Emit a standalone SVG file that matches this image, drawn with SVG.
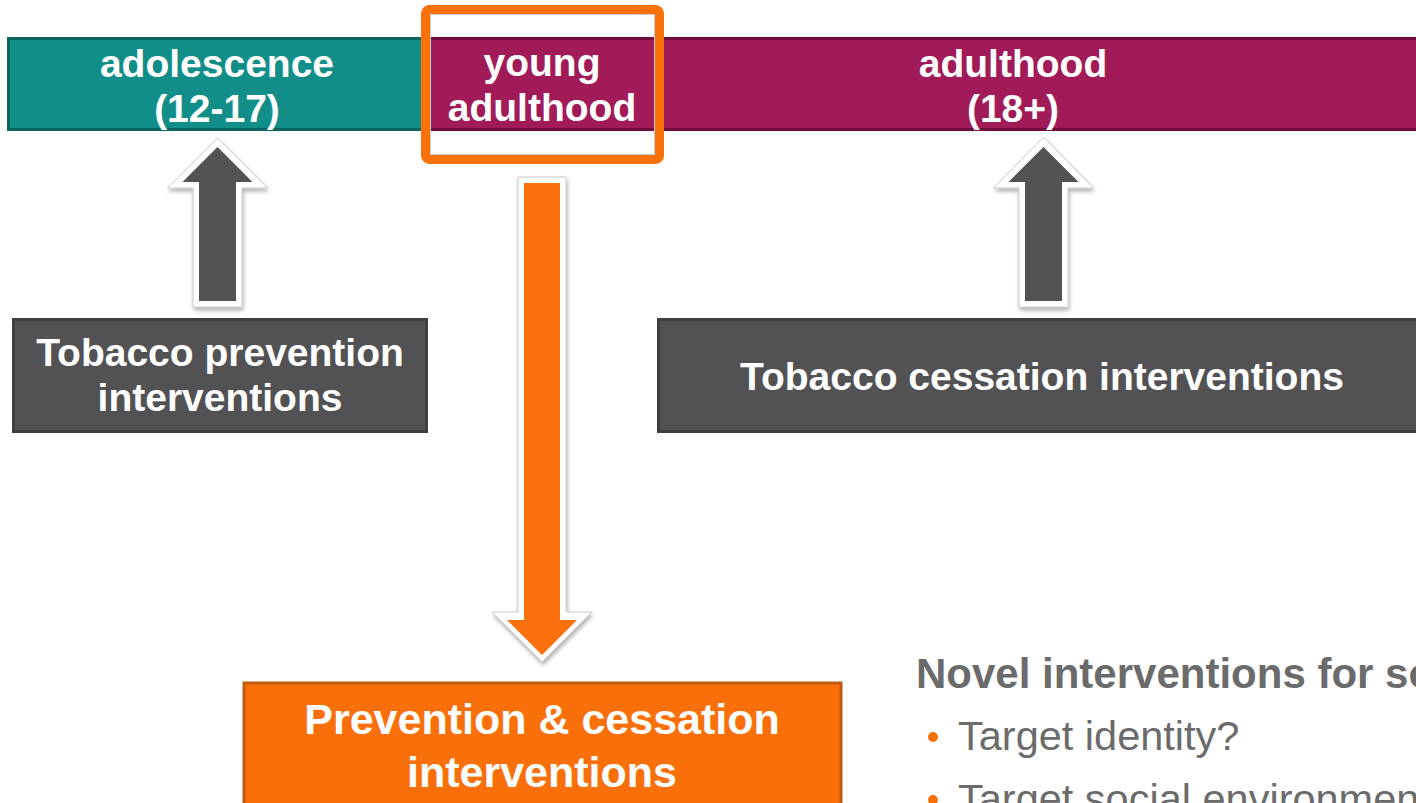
<svg xmlns="http://www.w3.org/2000/svg" width="1416" height="803" viewBox="0 0 1416 803">
<defs>
<style>
.lbl{font-family:"Liberation Sans",Arial,sans-serif;font-weight:bold;fill:#ffffff;text-anchor:middle}
.bar{font-size:39px}
.box{font-size:39px}
.gray{font-family:"Liberation Sans",Arial,sans-serif;fill:#6b6b6b}
.outline{fill:#ffffff;stroke:#c9c9c9;stroke-width:1}
</style>
<filter id="sh" x="-30%" y="-10%" width="160%" height="130%">
<feDropShadow dx="1" dy="3" stdDeviation="2" flood-color="#000" flood-opacity="0.3"/>
</filter>
</defs>
<rect width="1416" height="803" fill="#ffffff"/>

<g id="timeline">
<g id="adolescence">
<rect x="8.5" y="38.5" width="415" height="91" fill="#128E89" stroke="#0B6662" stroke-width="3"/>
<text class="lbl bar" x="217" y="77">adolescence</text>
<text class="lbl bar" x="217" y="122">(12-17)</text>
</g>
<g id="adulthood">
<rect x="423" y="38.5" width="1000" height="91" fill="#A11B59" stroke="#6F0E3A" stroke-width="3"/>
<text class="lbl bar" x="1013" y="77">adulthood</text>
<text class="lbl bar" x="1013" y="122">(18+)</text>
</g>
<g id="young-adulthood">
<text class="lbl bar" x="542" y="76">young</text>
<text class="lbl bar" x="542" y="121">adulthood</text>
<rect x="430.5" y="14.5" width="224" height="140" fill="none" stroke="#cccccc" stroke-width="1"/>
<rect x="425.5" y="9.5" width="234" height="150" rx="4" fill="none" stroke="#F97109" stroke-width="9"/>
</g>
</g>

<g id="connectors">
<g id="arrow-prevention" filter="url(#sh)">
<polygon class="outline" points="217.5,138 267.5,188 242,188 242,307 193,307 193,188 167.5,188"/>
<polygon fill="#525254" points="217.5,147 252.5,182 236,182 236,301 199,301 199,182 182.5,182"/>
</g>
<g id="arrow-cessation" filter="url(#sh)">
<polygon class="outline" points="1043.5,137 1093.5,188 1068,188 1068,307 1019,307 1019,188 993.5,188"/>
<polygon fill="#525254" points="1043.5,147 1078.5,182 1062,182 1062,301 1025,301 1025,182 1008.5,182"/>
</g>
<g id="arrow-young" filter="url(#sh)">
<polygon class="outline" points="518,177 566,177 566,612 592,612 542,662 492,612 518,612"/>
<polygon fill="#F9700B" points="524,183 560,183 560,620 577,620 542,655 507,620 524,620"/>
</g>
</g>

<g id="tobacco-prevention">
<rect x="13.5" y="319.5" width="413" height="112" fill="#525254" stroke="#3E3E40" stroke-width="3"/>
<text class="lbl box" x="220" y="366">Tobacco prevention</text>
<text class="lbl box" x="220" y="411">interventions</text>
</g>

<g id="tobacco-cessation">
<rect x="658.5" y="319.5" width="770" height="112" fill="#525254" stroke="#3E3E40" stroke-width="3"/>
<text class="lbl box" x="1042" y="390">Tobacco cessation interventions</text>
</g>

<g id="prevention-cessation">
<rect x="244" y="683" width="597" height="140" fill="#F9700B" stroke="#C05A0C" stroke-width="3"/>
<text class="lbl" font-size="43" x="542" y="734">Prevention &amp; cessation</text>
<text class="lbl" font-size="43" x="542" y="787">interventions</text>
</g>

<g id="novel-interventions">
<text class="gray" font-size="42" font-weight="bold" x="916" y="688">Novel interventions for social smokers</text>
<circle cx="933" cy="737" r="5" fill="#F97109"/>
<text class="gray" font-size="41.5" x="958" y="750">Target identity?</text>
<circle cx="933" cy="800" r="5" fill="#F97109"/>
<text class="gray" font-size="41.5" x="958" y="813">Target social environment?</text>
</g>
</svg>
